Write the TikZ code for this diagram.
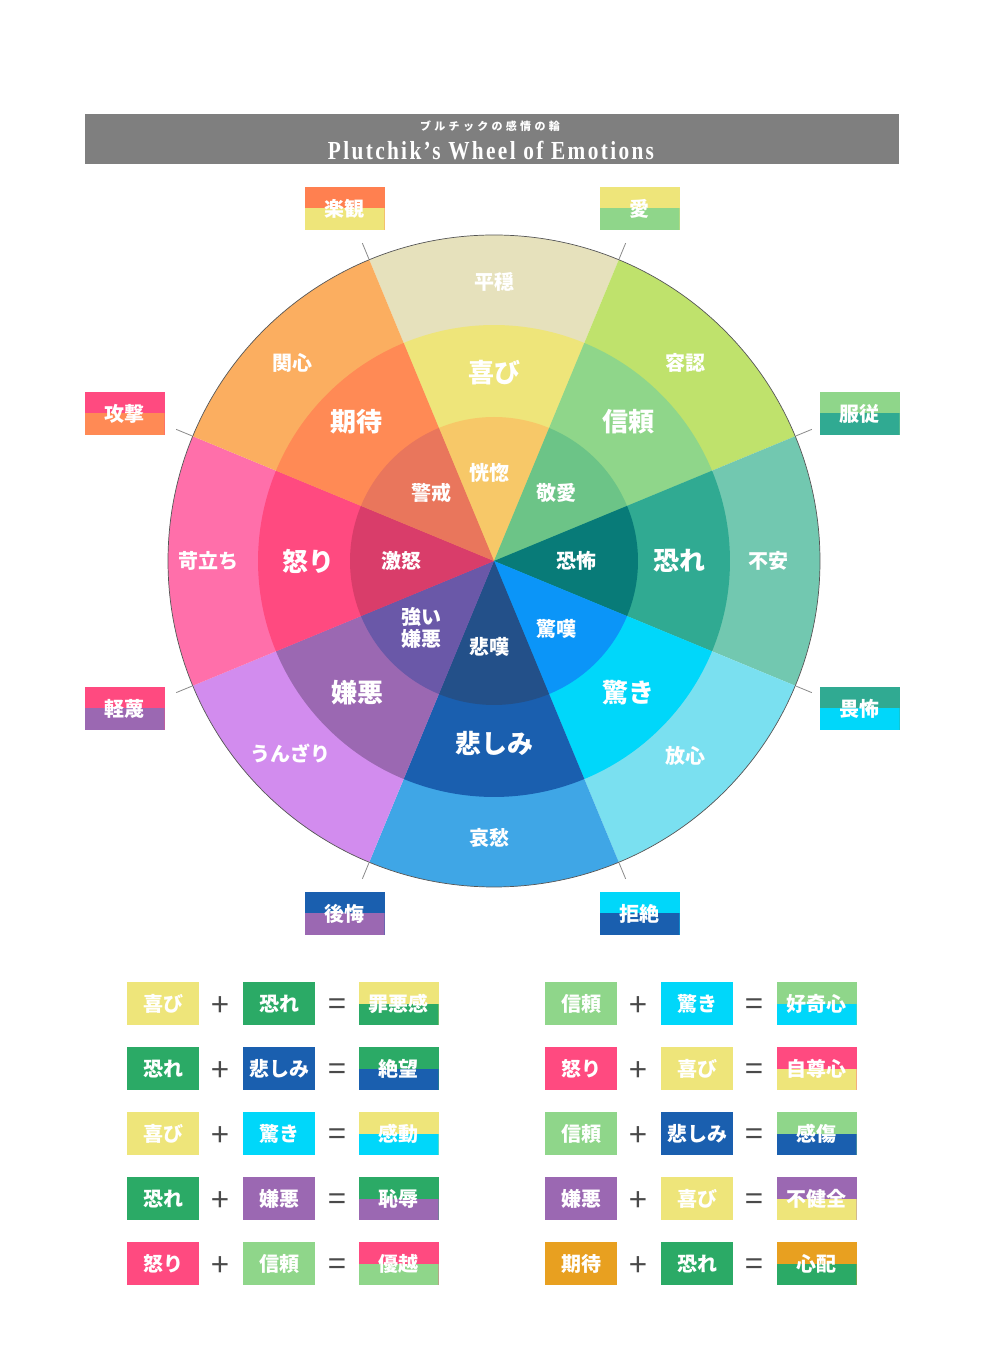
\documentclass[tikz,border=0pt]{standalone}
\usepackage{fontspec,xcolor,tikz}
\newfontfamily\jpfont{Noto Sans CJK JP}
\newfontfamily\jpspaced{Noto Sans CJK JP}[LetterSpace=30]
\newfontfamily\titlefont{Liberation Serif}[FakeStretch=0.82,LetterSpace=9]
% wheel colours, outer / middle / inner ring
\definecolor{serenC}{HTML}{E6E1BC}
\definecolor{joyC}{HTML}{EEE57A}
\definecolor{ecstC}{HTML}{F7C868}
\definecolor{accepC}{HTML}{BFE26C}
\definecolor{trustC}{HTML}{8FD68A}
\definecolor{admirC}{HTML}{6CC487}
\definecolor{apprC}{HTML}{72C8B0}
\definecolor{fearC}{HTML}{30AA92}
\definecolor{terrC}{HTML}{087B78}
\definecolor{distrC}{HTML}{7AE0F0}
\definecolor{surpC}{HTML}{00D7FA}
\definecolor{amazC}{HTML}{0B95F8}
\definecolor{pensC}{HTML}{3FA6E6}
\definecolor{sadC}{HTML}{1A5FAF}
\definecolor{griefC}{HTML}{235089}
\definecolor{boreC}{HTML}{D28CEE}
\definecolor{disgC}{HTML}{9B68B2}
\definecolor{loathC}{HTML}{6A58A8}
\definecolor{annoyC}{HTML}{FF6FAA}
\definecolor{angerC}{HTML}{FF4A80}
\definecolor{rageC}{HTML}{D93D6A}
\definecolor{interC}{HTML}{FBAE60}
\definecolor{anticC}{HTML}{FF8A55}
\definecolor{vigilC}{HTML}{E9765C}
% extra colours of the boxes
\definecolor{optiC}{HTML}{FF8050}
\definecolor{eqfearC}{HTML}{2BAA66}
\definecolor{eqanticC}{HTML}{E8A020}
\definecolor{barC}{HTML}{7F7F7F}
\definecolor{rimC}{HTML}{555555}
\definecolor{tickC}{HTML}{8A8A8A}
\definecolor{opC}{HTML}{4A4A4A}
\newcommand{\midlbl}{\jpfont\bfseries\fontsize{26}{28}\selectfont}
\newcommand{\ringlbl}{\jpfont\bfseries\fontsize{20}{22}\selectfont}
\newcommand{\boxlbl}{\jpfont\bfseries\fontsize{20}{22}\selectfont}
\newcommand{\petal}[3]{\fill[#1] (0,0) -- ({#2-22.5}:#3) arc[start angle={#2-22.5},end angle={#2+22.5},radius=#3] -- cycle;}
\tikzset{
  ringtext/.style={inner sep=0,text=white,font=\ringlbl},
  midtext/.style={inner sep=0,text=white,font=\midlbl},
  rimtick/.style={tickC,line width=0.8pt},
  eqbox/.style={minimum width=72pt,minimum height=43pt,inner sep=0,fill=#1,text=white,font=\boxlbl},
  dyad/.style 2 args={minimum width=80pt,minimum height=43pt,inner sep=0,fill=#1,text=white,font=\boxlbl,
    path picture={\fill[#2] (path picture bounding box.west) rectangle (path picture bounding box.south east);}},
  optext/.style={inner sep=0,yshift=-3pt,text=opC,font=\jpfont\fontsize{32}{34}\selectfont},
}

\begin{document}
\begin{tikzpicture}[x=1pt,y=1pt]
\useasboundingbox (0,0) rectangle (993,1350);
\fill[white] (0,0) rectangle (993,1350);
% title bar
\fill[barC] (85,1186) rectangle (899,1236);
\node[inner sep=0,text=white,font=\jpspaced\bfseries\fontsize{11}{13}\selectfont] (subtitle) at (490,1224) {ブルチックの感情の輪};
\node[inner sep=0,text=white,font=\titlefont\bfseries\fontsize{26}{28}\selectfont] (title) at (491,1199) {Plutchik’s Wheel of Emotions};
% the wheel
\begin{scope}[shift={(494,789)}]
\petal{serenC}{90}{326}
\petal{accepC}{45}{326}
\petal{apprC}{0}{326}
\petal{distrC}{-45}{326}
\petal{pensC}{-90}{326}
\petal{boreC}{-135}{326}
\petal{annoyC}{180}{326}
\petal{interC}{135}{326}
\petal{joyC}{90}{236}
\petal{trustC}{45}{236}
\petal{fearC}{0}{236}
\petal{surpC}{-45}{236}
\petal{sadC}{-90}{236}
\petal{disgC}{-135}{236}
\petal{angerC}{180}{236}
\petal{anticC}{135}{236}
\petal{ecstC}{90}{144}
\petal{admirC}{45}{144}
\petal{terrC}{0}{144}
\petal{amazC}{-45}{144}
\petal{griefC}{-90}{144}
\petal{loathC}{-135}{144}
\petal{rageC}{180}{144}
\petal{vigilC}{135}{144}
\draw[rimC,line width=0.7pt] (0,0) circle[radius=326];
% ticks toward the dyads
\draw[rimtick] (112.5:327) -- (112.5:344);
\draw[rimtick] (67.5:327) -- (67.5:344);
\draw[rimtick] (22.5:327) -- (22.5:344);
\draw[rimtick] (-22.5:327) -- (-22.5:344);
\draw[rimtick] (-67.5:327) -- (-67.5:344);
\draw[rimtick] (-112.5:327) -- (-112.5:344);
\draw[rimtick] (-157.5:327) -- (-157.5:344);
\draw[rimtick] (157.5:327) -- (157.5:344);
% outer ring
\node[ringtext] (serenity) at (90:279) {平穏};
\node[ringtext] (acceptance) at (46:276) {容認};
\node[ringtext] (apprehension) at (0:274) {不安};
\node[ringtext] (distraction) at (-45.5:273) {放心};
\node[ringtext] (pensiveness) at (-91:277) {哀愁};
\node[ringtext] (boredom) at (-136.5:280) {うんざり};
\node[ringtext] (annoyance) at (180:286) {苛立ち};
\node[ringtext] (interest) at (135.5:282) {関心};
% middle ring
\node[midtext] (joy) at (90:188) {喜び};
\node[midtext] (trust) at (46:194) {信頼};
\node[midtext] (fear) at (0:185) {恐れ};
\node[midtext] (surprise) at (-44.5:188) {驚き};
\node[midtext] (sadness) at (-90:182) {悲しみ};
\node[midtext] (disgust) at (-136:190) {嫌悪};
\node[midtext] (anger) at (180:186) {怒り};
\node[midtext] (anticipation) at (134.5:196) {期待};
% inner ring
\node[ringtext] (ecstasy) at (93:88) {恍惚};
\node[ringtext] (admiration) at (47.6:92) {敬愛};
\node[ringtext] (terror) at (0:82) {恐怖};
\node[ringtext] (amazement) at (-47.6:92) {驚嘆};
\node[ringtext] (grief) at (-93:86) {悲嘆};
\node[ringtext,align=center] (loathing) at (-137.5:99) {強い\\嫌悪};
\node[ringtext] (rage) at (180:93) {激怒};
\node[ringtext] (vigilance) at (132.4:92) {警戒};
\end{scope}
% primary dyads
\node[dyad={optiC}{joyC}] (optimism) at (344.5,1141.5) {楽観};
\node[dyad={joyC}{trustC}] (love) at (639.5,1141.5) {愛};
\node[dyad={trustC}{fearC}] (submission) at (859.5,936.5) {服従};
\node[dyad={fearC}{surpC}] (awe) at (859.5,641.5) {畏怖};
\node[dyad={surpC}{sadC}] (disapproval) at (639.5,436.5) {拒絶};
\node[dyad={sadC}{disgC}] (remorse) at (344.5,436.5) {後悔};
\node[dyad={angerC}{disgC}] (contempt) at (124.5,641.5) {軽蔑};
\node[dyad={angerC}{anticC}] (aggression) at (124.5,936.5) {攻撃};
% mixing rules, left column
\node[eqbox=joyC] (l1a) at (163,346) {喜び};
\node[optext] (l1p) at (220,346) {+};
\node[eqbox=eqfearC] (l1b) at (279,346) {恐れ};
\node[optext] (l1e) at (337,346) {=};
\node[dyad={joyC}{eqfearC}] (l1r) at (398.5,346) {罪悪感};
\node[eqbox=eqfearC] (l2a) at (163,281) {恐れ};
\node[optext] (l2p) at (220,281) {+};
\node[eqbox=sadC] (l2b) at (279,281) {悲しみ};
\node[optext] (l2e) at (337,281) {=};
\node[dyad={eqfearC}{sadC}] (l2r) at (398.5,281) {絶望};
\node[eqbox=joyC] (l3a) at (163,216) {喜び};
\node[optext] (l3p) at (220,216) {+};
\node[eqbox=surpC] (l3b) at (279,216) {驚き};
\node[optext] (l3e) at (337,216) {=};
\node[dyad={joyC}{surpC}] (l3r) at (398.5,216) {感動};
\node[eqbox=eqfearC] (l4a) at (163,151) {恐れ};
\node[optext] (l4p) at (220,151) {+};
\node[eqbox=disgC] (l4b) at (279,151) {嫌悪};
\node[optext] (l4e) at (337,151) {=};
\node[dyad={eqfearC}{disgC}] (l4r) at (398.5,151) {恥辱};
\node[eqbox=angerC] (l5a) at (163,86) {怒り};
\node[optext] (l5p) at (220,86) {+};
\node[eqbox=trustC] (l5b) at (279,86) {信頼};
\node[optext] (l5e) at (337,86) {=};
\node[dyad={angerC}{trustC}] (l5r) at (398.5,86) {優越};
% mixing rules, right column
\node[eqbox=trustC] (r1a) at (581,346) {信頼};
\node[optext] (r1p) at (638,346) {+};
\node[eqbox=surpC] (r1b) at (697,346) {驚き};
\node[optext] (r1e) at (754,346) {=};
\node[dyad={trustC}{surpC}] (r1r) at (816.5,346) {好奇心};
\node[eqbox=angerC] (r2a) at (581,281) {怒り};
\node[optext] (r2p) at (638,281) {+};
\node[eqbox=joyC] (r2b) at (697,281) {喜び};
\node[optext] (r2e) at (754,281) {=};
\node[dyad={angerC}{joyC}] (r2r) at (816.5,281) {自尊心};
\node[eqbox=trustC] (r3a) at (581,216) {信頼};
\node[optext] (r3p) at (638,216) {+};
\node[eqbox=sadC] (r3b) at (697,216) {悲しみ};
\node[optext] (r3e) at (754,216) {=};
\node[dyad={trustC}{sadC}] (r3r) at (816.5,216) {感傷};
\node[eqbox=disgC] (r4a) at (581,151) {嫌悪};
\node[optext] (r4p) at (638,151) {+};
\node[eqbox=joyC] (r4b) at (697,151) {喜び};
\node[optext] (r4e) at (754,151) {=};
\node[dyad={disgC}{joyC}] (r4r) at (816.5,151) {不健全};
\node[eqbox=eqanticC] (r5a) at (581,86) {期待};
\node[optext] (r5p) at (638,86) {+};
\node[eqbox=eqfearC] (r5b) at (697,86) {恐れ};
\node[optext] (r5e) at (754,86) {=};
\node[dyad={eqanticC}{eqfearC}] (r5r) at (816.5,86) {心配};
\end{tikzpicture}
\end{document}
